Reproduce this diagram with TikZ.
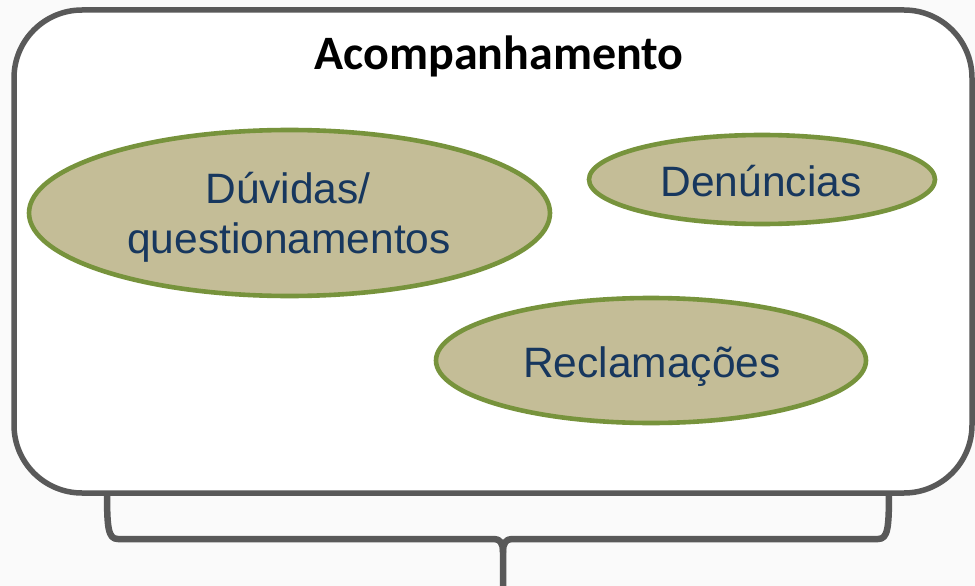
\documentclass[tikz,border=0pt]{standalone}
\usepackage{fontspec}
\setmainfont{Liberation Sans}
\newfontfamily\titlefont{Carlito}
\usetikzlibrary{shapes.geometric}
\definecolor{bgc}{RGB}{250,250,250}
\definecolor{boxc}{RGB}{89,89,89}
\definecolor{ellfill}{RGB}{196,189,151}
\definecolor{ellline}{RGB}{119,147,60}
\definecolor{txtc}{RGB}{23,55,94}
\tikzset{
  oval/.style={ellipse, draw=ellline, fill=ellfill, line width=4.6pt, inner sep=0pt},
  ovaltext/.style={anchor=base, text=txtc, inner sep=0pt, font=\fontsize{42.5}{50}\selectfont, align=center},
  frame/.style={draw=boxc, line width=5.5pt, fill=white, rounded corners=68pt},
  bracepath/.style={draw=boxc, line width=6.5pt, line cap=round, line join=round},
}
\begin{document}
\begin{tikzpicture}[x=1pt,y=-1pt]
\fill[bgc] (0,0) rectangle (975,586);
\useasboundingbox (0,0) rectangle (975,586);
% brace (drawn first, box covers its top)
\coordinate (bl) at (107,490);
\coordinate (br) at (889,490);
\coordinate (tip) at (503,586);
\draw[bracepath] (bl) .. controls (107,528) and (108,539) .. (118,539) -- (494,539)
  .. controls (500,539) and (503,543) .. (503,552) -- (tip);
\draw[bracepath] (br) .. controls (889,528) and (888,539) .. (878,539) -- (512,539)
  .. controls (506,539) and (503,543) .. (503,552);
% frame
\draw[frame] (14,10) rectangle (972,493);
\node[anchor=base, inner sep=0pt, font=\titlefont\bfseries\fontsize{48}{56}\selectfont] (title) at (499,70) {Acompanhamento};
% ellipses
\node[oval, minimum width=521pt, minimum height=166pt] (duv) at (289.5,213) {};
\node[oval, minimum width=346pt, minimum height=89pt] (den) at (762,179.5) {};
\node[oval, minimum width=430pt, minimum height=125pt] (rec) at (651,360.5) {};
\node[ovaltext] (duvt1) at (288,203) {Dúvidas/};
\node[ovaltext] (duvt2) at (289,253) {questionamentos};
\node[ovaltext] (dent) at (761,196) {Denúncias};
\node[ovaltext] (rect) at (652,377) {Reclamações};
\end{tikzpicture}
\end{document}
